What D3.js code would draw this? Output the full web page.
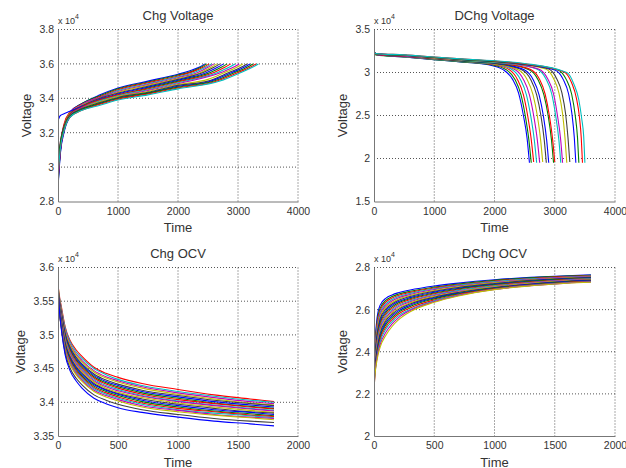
<!DOCTYPE html>
<html>
<head>
<meta charset="utf-8">
<script src="https://cdn.jsdelivr.net/npm/d3@7"></script>
<style>
  body { margin: 0; background: #fff; }
  svg { display: block; font-family: "Liberation Sans", Arial, sans-serif; }
</style>
</head>
<body>
<div id="chart"></div>
<script>
// values are in units of 1e4 (the "x 10^4" label)

// charge voltage, one [time, voltage] list per cycle
const chgVoltage = [
  [[0,2.95],[40,3.13],[100,3.24],[200,3.32],[400,3.37],[700,3.42],[1000,3.46],[1500,3.50],[2000,3.54],[2200,3.56],[2350,3.58],[2450,3.60]],
  [[0,2.90],[40,3.10],[100,3.22],[200,3.31],[400,3.37],[700,3.415],[1000,3.455],[1500,3.495],[2000,3.535],[2220,3.555],[2380,3.58],[2480,3.60]],
  [[0,3.00],[40,3.14],[100,3.25],[200,3.32],[400,3.365],[700,3.41],[1000,3.45],[1500,3.49],[2000,3.53],[2250,3.555],[2420,3.58],[2520,3.60]],
  [[0,2.92],[40,3.11],[100,3.23],[200,3.31],[400,3.36],[700,3.405],[1000,3.445],[1500,3.485],[2000,3.525],[2300,3.555],[2460,3.58],[2560,3.60]],
  [[0,2.94],[40,3.11],[100,3.23],[200,3.31],[400,3.365],[700,3.405],[1000,3.44],[1500,3.48],[2000,3.52],[2330,3.55],[2500,3.58],[2600,3.60]],
  [[0,2.97],[40,3.12],[100,3.23],[200,3.315],[400,3.36],[700,3.40],[1000,3.435],[1500,3.475],[2000,3.515],[2380,3.55],[2550,3.58],[2650,3.60]],
  [[0,2.93],[40,3.10],[100,3.22],[200,3.31],[400,3.355],[700,3.40],[1000,3.43],[1500,3.47],[2000,3.51],[2420,3.55],[2600,3.58],[2700,3.60]],
  [[0,3.27],[40,3.30],[100,3.31],[200,3.325],[400,3.355],[700,3.395],[1000,3.425],[1500,3.465],[2000,3.505],[2480,3.55],[2660,3.58],[2760,3.60]],
  [[0,2.89],[40,3.09],[100,3.21],[200,3.30],[400,3.35],[700,3.39],[1000,3.42],[1500,3.46],[2000,3.50],[2540,3.55],[2720,3.58],[2820,3.60]],
  [[0,2.96],[40,3.12],[100,3.22],[200,3.305],[400,3.35],[700,3.39],[1000,3.42],[1500,3.455],[2000,3.495],[2600,3.55],[2780,3.58],[2880,3.60]],
  [[0,2.99],[40,3.13],[100,3.23],[200,3.30],[400,3.345],[700,3.385],[1000,3.415],[1500,3.45],[2000,3.49],[2660,3.55],[2850,3.58],[2950,3.60]],
  [[0,2.91],[40,3.10],[100,3.21],[200,3.30],[400,3.345],[700,3.38],[1000,3.41],[1500,3.445],[2000,3.485],[2720,3.55],[2920,3.58],[3020,3.60]],
  [[0,2.94],[40,3.11],[100,3.22],[200,3.295],[400,3.34],[700,3.38],[1000,3.41],[1500,3.44],[2000,3.48],[2500,3.51],[2780,3.55],[2980,3.58],[3080,3.60]],
  [[0,3.03],[40,3.15],[100,3.24],[200,3.30],[400,3.34],[700,3.375],[1000,3.405],[1500,3.435],[2000,3.475],[2500,3.50],[2850,3.55],[3050,3.58],[3150,3.60]],
  [[0,2.88],[40,3.08],[100,3.20],[200,3.29],[400,3.335],[700,3.37],[1000,3.40],[1500,3.43],[2000,3.47],[2500,3.495],[2900,3.55],[3100,3.58],[3200,3.60]],
  [[0,2.98],[40,3.13],[100,3.22],[200,3.295],[400,3.335],[700,3.37],[1000,3.40],[1500,3.43],[2000,3.465],[2600,3.50],[2950,3.55],[3150,3.58],[3250,3.60]],
  [[0,2.92],[40,3.10],[100,3.21],[200,3.29],[400,3.33],[700,3.365],[1000,3.395],[1500,3.425],[2000,3.46],[2600,3.495],[3000,3.55],[3200,3.58],[3300,3.60]],
  [[0,2.95],[40,3.11],[100,3.21],[200,3.29],[400,3.33],[700,3.36],[1000,3.39],[1500,3.42],[2000,3.455],[2700,3.50],[3050,3.55],[3240,3.58],[3340,3.60]]
];

// discharge voltage, one [time, voltage] list per cycle
const dchgVoltage = [
  [[0,3.24],[30,3.21],[500,3.18],[1000,3.15],[1500,3.12],[1900,3.09],[2150,3.03],[2300,2.92],[2400,2.76],[2480,2.50],[2540,2.24],[2580,1.95]],
  [[0,3.23],[30,3.205],[500,3.18],[1000,3.15],[1500,3.12],[1950,3.09],[2200,3.03],[2340,2.92],[2440,2.74],[2510,2.50],[2570,2.22],[2610,1.95]],
  [[0,3.25],[30,3.21],[500,3.185],[1000,3.155],[1500,3.125],[2000,3.09],[2250,3.03],[2380,2.92],[2480,2.74],[2550,2.50],[2610,2.22],[2650,1.96]],
  [[0,3.24],[30,3.21],[500,3.185],[1000,3.155],[1500,3.125],[2000,3.095],[2300,3.03],[2430,2.92],[2530,2.74],[2600,2.50],[2660,2.22],[2700,1.95]],
  [[0,3.23],[30,3.21],[500,3.19],[1000,3.16],[1500,3.13],[2000,3.10],[2350,3.03],[2480,2.92],[2580,2.74],[2650,2.50],[2710,2.22],[2750,1.95]],
  [[0,3.24],[30,3.215],[500,3.19],[1000,3.16],[1500,3.13],[2000,3.10],[2400,3.03],[2540,2.92],[2640,2.74],[2710,2.50],[2765,2.22],[2800,1.96]],
  [[0,3.25],[30,3.215],[500,3.19],[1000,3.16],[1500,3.13],[2050,3.10],[2460,3.03],[2600,2.92],[2700,2.74],[2770,2.50],[2825,2.22],[2860,1.95]],
  [[0,3.23],[30,3.21],[500,3.19],[1000,3.165],[1500,3.135],[2100,3.10],[2500,3.03],[2640,2.92],[2740,2.74],[2810,2.50],[2865,2.22],[2900,1.95]],
  [[0,3.24],[30,3.215],[500,3.195],[1000,3.165],[1500,3.135],[2150,3.10],[2580,3.03],[2720,2.92],[2820,2.74],[2890,2.50],[2945,2.22],[2980,1.95]],
  [[0,3.24],[30,3.21],[500,3.19],[1000,3.165],[1500,3.14],[2200,3.10],[2600,3.035],[2740,2.93],[2840,2.75],[2910,2.50],[2965,2.22],[3000,1.96]],
  [[0,3.25],[30,3.22],[500,3.195],[1000,3.17],[1500,3.14],[2200,3.105],[2700,3.04],[2850,2.93],[2950,2.75],[3015,2.50],[3068,2.22],[3100,1.95]],
  [[0,3.23],[30,3.215],[500,3.195],[1000,3.17],[1500,3.145],[2200,3.11],[2730,3.04],[2880,2.93],[2980,2.75],[3045,2.50],[3098,2.22],[3130,1.95]],
  [[0,3.24],[30,3.215],[500,3.20],[1000,3.17],[1500,3.145],[2300,3.105],[2850,3.04],[2980,2.93],[3070,2.76],[3130,2.52],[3170,2.24],[3200,1.95]],
  [[0,3.25],[30,3.22],[500,3.20],[1000,3.175],[1500,3.15],[2300,3.11],[2900,3.04],[3030,2.93],[3120,2.76],[3180,2.52],[3220,2.24],[3250,1.96]],
  [[0,3.24],[30,3.22],[500,3.20],[1000,3.175],[1500,3.15],[2400,3.10],[3000,3.03],[3140,2.92],[3230,2.75],[3285,2.52],[3325,2.24],[3350,1.95]],
  [[0,3.23],[30,3.215],[500,3.20],[1000,3.175],[1500,3.15],[2400,3.105],[3050,3.03],[3190,2.92],[3280,2.75],[3340,2.50],[3378,2.24],[3400,1.95]],
  [[0,3.25],[30,3.22],[500,3.205],[1000,3.18],[1500,3.155],[2500,3.10],[3150,3.01],[3280,2.88],[3360,2.70],[3410,2.48],[3440,2.24],[3460,1.95]],
  [[0,3.24],[30,3.22],[500,3.205],[1000,3.18],[1500,3.155],[2500,3.105],[3200,3.00],[3320,2.86],[3400,2.68],[3450,2.45],[3480,2.26],[3500,1.95]]
];

// rest after charge (OCV), shared time grid
const chgOcvTimes = [0, 10, 30, 60, 100, 150, 200, 300, 400, 500, 700, 1000, 1300, 1600, 1800];
const chgOcv = [
  [3.575,3.560,3.540,3.512,3.492,3.478,3.468,3.452,3.443,3.437,3.428,3.419,3.411,3.405,3.401],
  [3.572,3.558,3.537,3.510,3.490,3.475,3.465,3.450,3.441,3.434,3.425,3.416,3.409,3.403,3.400],
  [3.570,3.556,3.535,3.507,3.487,3.472,3.462,3.447,3.438,3.432,3.423,3.414,3.407,3.401,3.398],
  [3.574,3.557,3.534,3.505,3.485,3.470,3.460,3.445,3.436,3.430,3.421,3.412,3.405,3.399,3.396],
  [3.568,3.553,3.531,3.502,3.482,3.467,3.457,3.442,3.433,3.427,3.418,3.410,3.403,3.398,3.395],
  [3.571,3.552,3.529,3.500,3.480,3.465,3.455,3.440,3.431,3.425,3.416,3.408,3.401,3.396,3.393],
  [3.566,3.550,3.527,3.498,3.478,3.463,3.453,3.438,3.429,3.423,3.414,3.406,3.399,3.394,3.391],
  [3.573,3.551,3.526,3.496,3.476,3.461,3.451,3.436,3.427,3.421,3.412,3.404,3.398,3.393,3.390],
  [3.569,3.549,3.524,3.494,3.474,3.459,3.449,3.434,3.425,3.419,3.410,3.402,3.396,3.391,3.388],
  [3.565,3.547,3.522,3.492,3.472,3.457,3.447,3.432,3.423,3.417,3.409,3.401,3.395,3.390,3.387],
  [3.570,3.546,3.520,3.490,3.470,3.455,3.445,3.430,3.421,3.415,3.407,3.399,3.393,3.388,3.385],
  [3.567,3.545,3.519,3.488,3.468,3.453,3.443,3.428,3.419,3.413,3.405,3.397,3.391,3.386,3.384],
  [3.564,3.543,3.517,3.486,3.466,3.451,3.441,3.426,3.418,3.412,3.403,3.395,3.389,3.385,3.382],
  [3.571,3.544,3.516,3.484,3.464,3.449,3.439,3.424,3.416,3.410,3.401,3.393,3.387,3.383,3.380],
  [3.566,3.541,3.514,3.482,3.462,3.447,3.437,3.422,3.414,3.408,3.399,3.391,3.386,3.381,3.379],
  [3.563,3.540,3.512,3.480,3.460,3.445,3.435,3.420,3.412,3.406,3.397,3.389,3.384,3.380,3.377],
  [3.568,3.539,3.510,3.478,3.458,3.443,3.433,3.418,3.410,3.404,3.395,3.388,3.382,3.378,3.376],
  [3.565,3.537,3.508,3.476,3.456,3.441,3.431,3.416,3.408,3.402,3.393,3.386,3.381,3.377,3.374],
  [3.572,3.541,3.507,3.473,3.451,3.436,3.426,3.411,3.403,3.397,3.389,3.382,3.376,3.372,3.370],
  [3.570,3.540,3.505,3.470,3.447,3.432,3.421,3.406,3.398,3.392,3.385,3.378,3.372,3.368,3.365]
];

// rest after discharge (OCV), shared time grid
const dchgOcvTimes = [0, 10, 25, 50, 100, 150, 200, 300, 500, 700, 1000, 1300, 1600, 1800];
const dchgOcv = [
  [2.33,2.46,2.56,2.62,2.655,2.670,2.680,2.693,2.712,2.726,2.742,2.753,2.761,2.765],
  [2.31,2.44,2.54,2.605,2.645,2.662,2.673,2.687,2.707,2.722,2.739,2.751,2.759,2.763],
  [2.32,2.43,2.53,2.595,2.637,2.655,2.667,2.682,2.703,2.718,2.736,2.748,2.757,2.761],
  [2.30,2.42,2.515,2.585,2.628,2.648,2.661,2.677,2.699,2.715,2.733,2.746,2.755,2.759],
  [2.29,2.41,2.50,2.575,2.620,2.641,2.655,2.672,2.695,2.712,2.730,2.743,2.753,2.757],
  [2.31,2.40,2.49,2.565,2.612,2.634,2.649,2.667,2.691,2.708,2.727,2.741,2.751,2.755],
  [2.28,2.39,2.48,2.555,2.604,2.627,2.643,2.662,2.687,2.705,2.724,2.739,2.749,2.753],
  [2.30,2.38,2.47,2.545,2.596,2.620,2.637,2.657,2.683,2.701,2.721,2.736,2.747,2.751],
  [2.27,2.37,2.46,2.535,2.588,2.613,2.631,2.652,2.679,2.698,2.719,2.734,2.745,2.750],
  [2.29,2.36,2.45,2.525,2.580,2.606,2.625,2.647,2.675,2.694,2.716,2.731,2.743,2.748],
  [2.26,2.355,2.44,2.515,2.572,2.599,2.619,2.642,2.671,2.691,2.713,2.729,2.741,2.746],
  [2.28,2.35,2.43,2.505,2.564,2.592,2.613,2.637,2.667,2.687,2.710,2.727,2.739,2.744],
  [2.25,2.34,2.42,2.495,2.556,2.585,2.606,2.632,2.663,2.684,2.708,2.725,2.737,2.742],
  [2.27,2.335,2.41,2.485,2.548,2.578,2.600,2.627,2.659,2.681,2.705,2.722,2.735,2.740],
  [2.24,2.33,2.40,2.475,2.539,2.570,2.593,2.621,2.655,2.678,2.703,2.720,2.733,2.738],
  [2.26,2.32,2.39,2.465,2.530,2.562,2.586,2.615,2.651,2.675,2.701,2.718,2.731,2.736],
  [2.23,2.315,2.38,2.455,2.519,2.553,2.578,2.608,2.646,2.672,2.699,2.717,2.729,2.734],
  [2.25,2.31,2.375,2.445,2.508,2.543,2.569,2.601,2.642,2.669,2.697,2.715,2.727,2.732],
  [2.22,2.305,2.37,2.432,2.494,2.532,2.560,2.596,2.638,2.667,2.696,2.714,2.726,2.731],
  [2.22,2.30,2.36,2.42,2.48,2.52,2.55,2.59,2.635,2.665,2.695,2.713,2.725,2.730]
];

const titles = ['Chg Voltage', 'DChg Voltage', 'Chg OCV', 'DChg OCV'];
const xTicksLong = [0, 1000, 2000, 3000, 4000];
const xTicksShort = [0, 500, 1000, 1500, 2000];
const yTicksChg = [2.8, 3, 3.2, 3.4, 3.6, 3.8];
const yTicksDchg = [1.5, 2, 2.5, 3, 3.5];
const yTicksChgOcv = [3.35, 3.4, 3.45, 3.5, 3.55, 3.6];
const yTicksDchgOcv = [2, 2.2, 2.4, 2.6, 2.8];

// MATLAB's old default line colour order
const colors = ['#0000ff', '#008000', '#ff0000', '#00bfbf', '#bf00bf', '#bfbf00', '#404040'];

const panels = [
  {title: titles[0], left: 58, top: 29.5, right: 298, bottom: 201.5, xTicks: xTicksLong, yTicks: yTicksChg,
   series: chgVoltage, colorShift: 0},
  {title: titles[1], left: 374, top: 29.5, right: 615, bottom: 201.5, xTicks: xTicksLong, yTicks: yTicksDchg,
   series: dchgVoltage, colorShift: 0},
  {title: titles[2], left: 58, top: 267.5, right: 298, bottom: 436, xTicks: xTicksShort, yTicks: yTicksChgOcv,
   series: chgOcv.map(vals => vals.map((v, j) => [chgOcvTimes[j], v])), colorShift: 2},
  {title: titles[3], left: 374, top: 267.5, right: 615, bottom: 436, xTicks: xTicksShort, yTicks: yTicksDchgOcv,
   series: dchgOcv.map(vals => vals.map((v, j) => [dchgOcvTimes[j], v])), colorShift: 0}
];

const svg = d3.select('#chart')
  .append('svg')
  .attr('width', 626)
  .attr('height', 468);

const fmt = d => String(+d.toFixed(2));
const textColor = '#333';

panels.forEach((p, i) => {
  const x = d3.scaleLinear()
    .domain(d3.extent(p.xTicks))
    .range([p.left, p.right]);
  const y = d3.scaleLinear()
    .domain(d3.extent(p.yTicks))
    .range([p.bottom, p.top]);

  const g = svg.append('g');

  // dotted grid (includes the top and right edges, box is off)
  g.append('g').selectAll('line')
    .data(p.xTicks.slice(1))
    .join('line')
    .attr('x1', d => x(d)).attr('x2', d => x(d))
    .attr('y1', p.top).attr('y2', p.bottom)
    .attr('stroke', '#555').attr('stroke-dasharray', '1,2');
  g.append('g').selectAll('line')
    .data(p.yTicks.slice(1))
    .join('line')
    .attr('x1', p.left).attr('x2', p.right)
    .attr('y1', d => y(d)).attr('y2', d => y(d))
    .attr('stroke', '#555').attr('stroke-dasharray', '1,2');

  g.append('clipPath').attr('id', 'clip' + i)
    .append('rect')
    .attr('x', p.left).attr('y', p.top)
    .attr('width', p.right - p.left).attr('height', p.bottom - p.top);

  const line = d3.line()
    .x(d => x(d[0]))
    .y(d => y(d[1]))
    .curve(d3.curveMonotoneX);

  g.append('g')
    .attr('clip-path', `url(#clip${i})`)
    .selectAll('path')
    .data(p.series)
    .join('path')
    .attr('d', line)
    .attr('fill', 'none')
    .attr('stroke', (d, k) => colors[(k + p.colorShift) % colors.length])
    .attr('stroke-width', 1.1);

  const xAxis = g.append('g')
    .attr('transform', `translate(0,${p.bottom})`)
    .call(d3.axisBottom(x).tickValues(p.xTicks).tickFormat(fmt).tickSize(0).tickPadding(6));
  const yAxis = g.append('g')
    .attr('transform', `translate(${p.left},0)`)
    .call(d3.axisLeft(y).tickValues(p.yTicks).tickFormat(fmt).tickSize(0).tickPadding(4));

  [xAxis, yAxis].forEach(a => {
    a.select('.domain').attr('stroke', '#777');
    a.selectAll('text').attr('font-size', '10.5px').attr('fill', textColor)
      .attr('font-family', '"Liberation Sans", Arial, sans-serif');
  });

  // multiplier label
  const mult = g.append('text')
    .attr('x', p.left)
    .attr('y', p.top - 6)
    .attr('font-size', '9px')
    .attr('fill', textColor)
    .text('x 10');
  mult.append('tspan')
    .attr('dy', -5)
    .attr('font-size', '7px')
    .text('4');

  g.append('text')
    .attr('x', (p.left + p.right) / 2)
    .attr('y', p.top - 10)
    .attr('text-anchor', 'middle')
    .attr('font-size', '13px')
    .attr('fill', textColor)
    .text(p.title);

  g.append('text')
    .attr('x', (p.left + p.right) / 2)
    .attr('y', p.bottom + 30.5)
    .attr('text-anchor', 'middle')
    .attr('font-size', '13px')
    .attr('fill', textColor)
    .text('Time');

  let maxW = 0;
  yAxis.selectAll('text').each(function() {
    maxW = Math.max(maxW, this.getComputedTextLength());
  });
  const lx = p.left - 4 - maxW - 8.5;
  g.append('text')
    .attr('transform', `translate(${lx},${(p.top + p.bottom) / 2}) rotate(-90)`)
    .attr('text-anchor', 'middle')
    .attr('font-size', '13px')
    .attr('fill', textColor)
    .text('Voltage');
});
</script>
</body>
</html>
